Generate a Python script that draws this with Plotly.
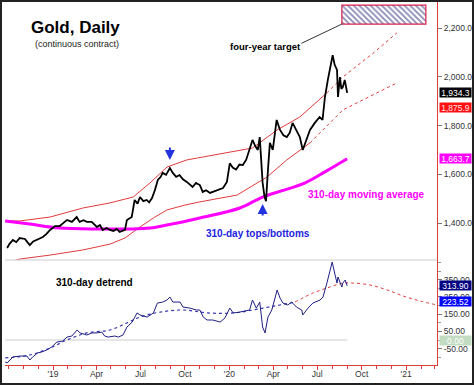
import plotly.graph_objects as go

# ---------------- data ----------------
price_dates = ["2018-09-28","2018-10-03","2018-10-10","2018-10-17","2018-10-24","2018-11-04","2018-11-09","2018-11-14",
               "2018-11-21","2018-11-28","2018-12-04","2018-12-11","2018-12-18","2018-12-26",
               "2019-01-05","2019-01-15","2019-01-22","2019-01-30","2019-02-09","2019-02-19","2019-02-25","2019-03-05",
               "2019-03-12","2019-03-22","2019-04-02","2019-04-08","2019-04-14","2019-04-22","2019-04-29","2019-05-06",
               "2019-05-13","2019-05-19","2019-05-30","2019-06-03","2019-06-13",
               "2019-06-19","2019-06-25","2019-06-30","2019-07-07","2019-07-14","2019-07-19","2019-07-25","2019-07-31",
               "2019-08-06","2019-08-12","2019-08-16","2019-08-23","2019-08-31",
               "2019-09-06","2019-09-13","2019-09-20","2019-09-27","2019-10-05","2019-10-11","2019-10-17","2019-10-24",
               "2019-11-01","2019-11-07","2019-11-14","2019-11-22","2019-11-29","2019-12-06",
               "2019-12-13","2019-12-19","2019-12-27","2020-01-02","2020-01-08","2020-01-15","2020-01-22","2020-01-29",
               "2020-02-05","2020-02-12","2020-02-18","2020-02-24","2020-02-29",
               "2020-03-04","2020-03-10","2020-03-14","2020-03-17","2020-03-21","2020-03-25","2020-03-31","2020-04-08",
               "2020-04-15","2020-04-22","2020-04-29","2020-05-05","2020-05-11","2020-05-18","2020-05-26","2020-06-01",
               "2020-06-08","2020-06-16","2020-06-26","2020-07-06","2020-07-12",
               "2020-07-17","2020-07-23","2020-07-31","2020-08-02","2020-08-06","2020-08-11","2020-08-13","2020-08-17",
               "2020-08-20","2020-08-23","2020-08-27","2020-09-01"]
price_vals = [1298,1315,1331,1322,1339,1335,1322,1310,
              1325,1331,1336,1343,1355,1372,
              1388,1388,1400,1413,1405,1425,1405,1412,
              1405,1405,1384,1392,1372,1380,1372,1368,
              1376,1364,1372,1413,1425,
              1495,1480,1507,1490,1495,1485,1503,1536,
              1577,1590,1606,1598,1626,
              1606,1590,1597,1580,1569,1560,1548,1565,
              1556,1528,1535,1524,1530,1536,
              1540,1544,1569,1645,1628,1620,1640,1638,
              1660,1700,1741,1715,1700,
              1753,1565,1507,1490,1618,1729,1700,1823,
              1782,1760,1753,1770,1811,1785,1753,1700,
              1735,1782,1811,1835,1823,
              1917,1987,2069,2089,2050,2028,1917,1999,
              1950,1958,1987,1934.3]

ma_dates = ["2018-09-24","2018-11-14","2019-01-15","2019-04-08","2019-06-10","2019-07-21","2019-08-25",
            "2019-11-01","2020-01-23","2020-03-10","2020-04-25","2020-06-06","2020-07-17","2020-09-01"]
ma_vals = [1409,1396,1380,1376,1376,1380,1392,1421,1462,1507,1536,1565,1610,1663.7]

upper_dates = ["2018-09-24","2018-10-25","2018-12-26","2019-03-04","2019-04-29","2019-06-16","2019-07-21",
               "2019-08-25","2019-10-05","2019-11-28","2020-01-09","2020-02-18","2020-04-09","2020-05-26","2020-07-21"]
upper_vals = [1409,1409,1425,1462,1483,1507,1565,1630,1659,1679,1692,1708,1782,1835,1934]
upper_proj_dates = ["2020-07-21","2020-08-23","2020-10-25","2020-12-13"]
upper_proj_vals = [1934,1999,2097,2180]

lower_dates = ["2018-09-24","2018-10-25","2018-12-26","2019-03-04","2019-04-29","2019-05-30","2019-06-30",
               "2019-07-31","2019-08-25","2019-10-01","2019-11-01","2020-01-17","2020-03-19","2020-04-29","2020-06-16"]
lower_vals = [1236,1253,1269,1290,1314,1339,1384,1425,1454,1474,1487,1515,1589,1659,1729]
lower_proj_dates = ["2020-06-16","2020-08-23","2020-12-13"]
lower_proj_vals = [1729,1864,1975]

detrend_dates = ["2018-09-24","2018-09-28","2018-10-10","2018-10-25","2018-11-08","2018-11-14","2018-11-20","2018-11-30",
                 "2018-12-08","2018-12-19","2018-12-29","2019-01-09","2019-01-21","2019-01-30","2019-02-09","2019-02-20",
                 "2019-02-26","2019-03-12","2019-03-23","2019-04-02","2019-04-12","2019-04-18","2019-04-25","2019-05-09",
                 "2019-05-16","2019-05-26","2019-06-03","2019-06-14","2019-06-24","2019-06-30","2019-07-15","2019-07-28",
                 "2019-08-05","2019-08-16","2019-08-25","2019-08-31","2019-09-06","2019-09-21","2019-09-27","2019-10-11",
                 "2019-10-25","2019-11-01","2019-11-08","2019-11-16","2019-11-28","2019-12-13","2019-12-23","2020-01-02",
                 "2020-01-09","2020-01-23","2020-02-12","2020-02-18","2020-02-26","2020-03-04","2020-03-10","2020-03-15",
                 "2020-03-21","2020-03-29","2020-04-09","2020-04-15","2020-04-21","2020-05-01","2020-05-09","2020-05-19",
                 "2020-05-30","2020-06-01","2020-06-12","2020-06-22","2020-07-07","2020-07-13","2020-07-21","2020-07-27",
                 "2020-08-01","2020-08-07","2020-08-11","2020-08-13","2020-08-21","2020-08-23","2020-08-28","2020-09-01"]
detrend_vals = [-127,-133,-98,-93,-93,-116,-98,-75,
                -70,-58,-41,-12,-6,17,23,58,
                41,29,41,41,46,23,17,23,
                17,29,75,104,157,145,133,157,
                214,220,232,249,220,220,191,185,
                174,174,133,116,116,104,128,185,
                157,162,174,232,185,220,75,41,
                133,174,290,243,214,203,220,191,
                174,145,185,214,232,249,330,406,
                452,377,330,365,307,330,348,313.9]

smooth_dates = ["2018-09-24","2018-11-14","2018-12-26","2019-01-30","2019-03-12","2019-04-29","2019-06-03",
                "2019-06-30","2019-08-11","2019-09-28","2019-11-17","2020-01-10","2020-03-11","2020-05-16"]
smooth_vals = [-104,-87,-46,0,41,58,99,133,162,174,157,157,185,220]

proj_dates = ["2020-05-16","2020-06-22","2020-07-27","2020-08-23","2020-09-13","2020-10-18","2020-11-23",
              "2020-12-26","2021-01-30","2021-03-06"]
proj_vals = [220,272,307,330,330,319,290,255,226,203]

target_dates = ["2020-08-21", "2021-02-11"]
target_range = [2216, 2294]

tick_dates = ["2019-01-01","2019-04-01","2019-07-01","2019-10-01","2020-01-01","2020-04-01","2020-07-01","2020-10-01","2021-01-01"]
tick_labels = ["'19","Apr","Jul","Oct","'20","Apr","Jul","Oct","'21"]
price_ticks = [1400, 1600, 1800, 2000, 2200]
price_tick_labels = ["1,400.0", "1,600.0", "1,800.0", "2,000.0", "2,200.0"]
det_ticks = [350, 250, 150, 50, -50]
det_tick_labels = ["350.00", "250.00", "150.00", "50.00", "-50.00"]

# ---------------- layout helpers ----------------
W, H = 474, 385
ML, MR, MT, MB = 5, 37, 2, 20
PW, PH = W - ML - MR, H - MT - MB
SPLIT = (365 - 260) / PH


def px(x, y):
    return (x - ML) / PW, (H - MB - y) / PH


FONT = "Liberation Sans, Arial, sans-serif"
RED = "#e03c3c"
NAVY = "#1f1f85"

fig = go.Figure()

# target box (hatched)
fig.add_trace(go.Scatter(
    x=[target_dates[0], target_dates[1], target_dates[1], target_dates[0], target_dates[0]],
    y=[target_range[0], target_range[0], target_range[1], target_range[1], target_range[0]],
    mode="lines", fill="toself", line=dict(color="#d8204a", width=1.2),
    fillcolor="white",
    fillpattern=dict(shape="\\", fgcolor="#14146e", bgcolor="white", size=4, solidity=0.45),
    hoverinfo="skip"))

fig.add_trace(go.Scatter(x=upper_dates, y=upper_vals, mode="lines", line=dict(color=RED, width=1)))
fig.add_trace(go.Scatter(x=upper_proj_dates, y=upper_proj_vals, mode="lines",
                         line=dict(color=RED, width=1, dash="3px,3px")))
fig.add_trace(go.Scatter(x=lower_dates, y=lower_vals, mode="lines", line=dict(color=RED, width=1)))
fig.add_trace(go.Scatter(x=lower_proj_dates, y=lower_proj_vals, mode="lines",
                         line=dict(color=RED, width=1, dash="3px,3px")))
fig.add_trace(go.Scatter(x=ma_dates, y=ma_vals, mode="lines", line=dict(color="#ff00ff", width=3, shape="spline")))
fig.add_trace(go.Scatter(x=price_dates, y=price_vals, mode="lines", line=dict(color="black", width=1.8)))

# detrend panel
fig.add_trace(go.Scatter(x=[detrend_dates[0], detrend_dates[-1]], y=[0, 0], yaxis="y2", mode="lines",
                         line=dict(color="#cccccc", width=1)))
fig.add_trace(go.Scatter(x=proj_dates, y=proj_vals, yaxis="y2", mode="lines",
                         line=dict(color=RED, width=1, dash="3px,3px", shape="spline")))
fig.add_trace(go.Scatter(x=smooth_dates, y=smooth_vals, yaxis="y2", mode="lines",
                         line=dict(color="#3838b0", width=1.2, dash="3px,3px", shape="spline")))
fig.add_trace(go.Scatter(x=detrend_dates, y=detrend_vals, yaxis="y2", mode="lines",
                         line=dict(color=NAVY, width=1)))

annotations = []


def text(x, y, s, size, color="black", bold=True):
    xp, yp = px(x, y)
    annotations.append(dict(x=xp, y=yp, xref="paper", yref="paper", text=f"<b>{s}</b>" if bold else s,
                            showarrow=False, xanchor="center", yanchor="middle",
                            font=dict(family=FONT, size=size, color=color)))


text(75, 27, "Gold, Daily", 17)
text(77, 44, "(continuous contract)", 9, "#222", bold=False)
text(265, 46, "four-year target", 9.5)
text(258, 233, "310-day tops/bottoms", 10, "#2222dd")
text(366, 194, "310-day moving average", 10, "#ff00ff")
text(94, 282, "310-day detrend", 10)

# arrows
annotations.append(dict(x="2019-08-31", y=1659, xref="x", yref="y", ax=0, ay=-14, showarrow=True,
                        arrowhead=2, arrowsize=1, arrowwidth=2, arrowcolor="#2233dd", text=""))
annotations.append(dict(x="2020-03-10", y=1478, xref="x", yref="y", ax=0, ay=13, showarrow=True,
                        arrowhead=2, arrowsize=1, arrowwidth=2, arrowcolor="#2233dd", text=""))
# pointer to target
annotations.append(dict(x=target_dates[0], y=target_range[0], xref="x", yref="y", ax=-42, ay=20,
                        showarrow=True, arrowhead=0, arrowwidth=1, arrowcolor="#333", text=""))


def tag(val, label, bg, fg="white", axis="y"):
    annotations.append(dict(x=1, y=val, xref="paper", yref=axis, xanchor="left", yanchor="middle", xshift=2,
                            text=label, showarrow=False, bgcolor=bg, width=31, height=9, borderpad=0,
                            font=dict(family=FONT, size=8.5, color=fg)))


tag(1934.3, "1,934.3", "black")
tag(1875.9, "1,875.9", "#ff1010", "#ffe0e0")
tag(1663.7, "1,663.7", "#ff00ff")
tag(313.9, "313.90", "#000080", axis="y2")
tag(223.52, "223.52", "#0000ff", axis="y2")
tag(0, "0.00", "#c2dcc2", axis="y2")

shapes = [
    dict(type="line", xref="paper", yref="paper", x0=0, x1=1, y0=SPLIT, y1=SPLIT,
         line=dict(color="#cccccc", width=1)),
    dict(type="rect", xref="paper", yref="paper",
         x0=px(1, 0)[0], x1=px(473, 0)[0], y0=px(0, 384)[1], y1=px(0, 1)[1],
         line=dict(color="#222", width=2)),
]

fig.update_layout(
    width=W, height=H, margin=dict(l=ML, r=MR, t=MT, b=MB),
    paper_bgcolor="white", plot_bgcolor="white", showlegend=False,
    font=dict(family=FONT, size=9, color="#333"),
    annotations=annotations, shapes=shapes,
    xaxis=dict(type="date", range=["2018-09-23 14:00", "2021-03-06"], anchor="y2",
               showline=True, linecolor=RED, linewidth=1, ticks="outside", ticklen=4, tickcolor=RED,
               tickvals=tick_dates, ticktext=tick_labels, tickfont=dict(size=8.5, color="#333"),
               ticklabelstandoff=-3,
               showgrid=False, zeroline=False,
               minor=dict(ticks="outside", ticklen=3, tickcolor=RED, dtick="M1", tick0="2019-01-01",
                          showgrid=False)),
    yaxis=dict(domain=[SPLIT, 1], range=[1248.8, 2306.6], side="right", anchor="x",
               showline=True, linecolor=RED, linewidth=1, ticks="outside", ticklen=4, tickcolor="#777",
               tickvals=price_ticks, ticktext=price_tick_labels, tickfont=dict(size=8.5, color="#333"),
               showgrid=False, zeroline=False),
    yaxis2=dict(domain=[0, SPLIT], range=[-144.9, 463.8], side="right", anchor="x",
                showline=True, linecolor=RED, linewidth=1, ticks="outside", ticklen=4, tickcolor="#777",
                tickvals=det_ticks, ticktext=det_tick_labels, tickfont=dict(size=8.5, color="#333"),
                showgrid=False, zeroline=False,
                minor=dict(ticks="outside", ticklen=3, tickcolor="#999", dtick=50, showgrid=False)),
)

fig.write_html("out.html", config={"displayModeBar": False},
               post_script="document.body.style.margin='0';document.body.style.overflow='hidden';")
